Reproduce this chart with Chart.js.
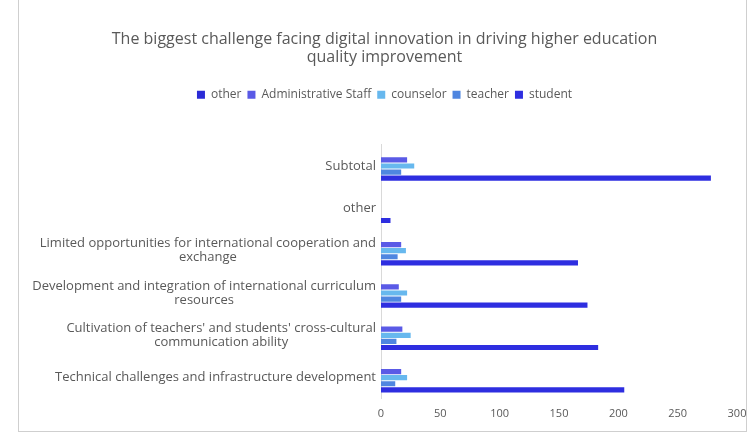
<!DOCTYPE html>
<html>
<head>
<meta charset="utf-8">
<script src="https://cdn.jsdelivr.net/npm/chart.js@4/dist/chart.umd.min.js"></script>
<style>
  html, body { margin: 0; padding: 0; background: #fff; }
  #wrap { position: absolute; left: 0; top: 0; width: 749px; height: 432px; }
  #frame { position: absolute; left: 18px; top: -1px; width: 729px; height: 433px; border: 1px solid #cfcfcf; box-sizing: border-box; pointer-events: none; }
</style>
</head>
<body>
<div id="wrap">
  <canvas id="myChart" width="749" height="432"></canvas>
  <div id="frame"></div>
</div>
<script>
// categories (top to bottom)
var categories = [
  ['Subtotal'],
  ['other'],
  ['Limited opportunities for international cooperation and', 'exchange'],
  ['Development and integration of international curriculum', 'resources'],
  ["Cultivation of teachers' and students' cross-cultural", 'communication ability'],
  ['Technical challenges and infrastructure development']
];
var seriesNames = ['other', 'Administrative Staff', 'counselor', 'teacher', 'student'];
var otherVals   = [0, 0, 0, 0, 0, 0];
var adminVals   = [22, 0, 17, 15, 18, 17];
var counselVals = [28, 0, 21, 22, 25, 22];
var teacherVals = [17, 0, 14, 17, 13, 12];
var studentVals = [278, 8, 166, 174, 183, 205];
var xTicks = [0, 50, 100, 150, 200, 250, 300];

var colors = ['#2b2bd6', '#5a5ae6', '#67b8ee', '#4f86e0', '#2e2ee0'];
var font = 'Open Sans';

// draw the y labels: block right aligned, lines centered on each other
var yLabelPlugin = {
  id: 'yLabels',
  afterDraw: function (chart) {
    var scale = chart.scales.y;
    var c = chart.ctx;
    c.save();
    c.font = '13px "' + font + '"';
    c.fillStyle = '#595959';
    c.textBaseline = 'middle';
    c.textAlign = 'center';
    var right = scale.right - 5;
    categories.forEach(function (lines, i) {
      var y = scale.getPixelForTick(i);
      var w = 0;
      lines.forEach(function (l) { w = Math.max(w, c.measureText(l).width); });
      var lh = 14;
      var y0 = y - (lines.length - 1) * lh / 2;
      lines.forEach(function (l, k) {
        c.fillText(l, right - w / 2, y0 + k * lh);
      });
    });
    c.restore();
  }
};

// extra room under the legend
var legendGap = {
  id: 'legendGap',
  beforeInit: function (chart) {
    var fit = chart.legend.fit;
    chart.legend.fit = function () {
      fit.bind(chart.legend)();
      this.height += 34;
    };
  }
};

var ctx = document.getElementById('myChart').getContext('2d');
var myChart = new Chart(ctx, {
  type: 'bar',
  data: {
    labels: categories,
    datasets: [
      { label: seriesNames[0], data: otherVals,   backgroundColor: colors[0] },
      { label: seriesNames[1], data: adminVals,   backgroundColor: colors[1] },
      { label: seriesNames[2], data: counselVals, backgroundColor: colors[2] },
      { label: seriesNames[3], data: teacherVals, backgroundColor: colors[3] },
      { label: seriesNames[4], data: studentVals, backgroundColor: colors[4] }
    ]
  },
  options: {
    indexAxis: 'y',
    responsive: false,
    animation: false,
    categoryPercentage: 0.72,
    barPercentage: 0.85,
    layout: { padding: { left: 20, right: 0, top: 30, bottom: 4 } },
    plugins: {
      title: {
        display: true,
        text: ['The biggest challenge facing digital innovation in driving higher education', 'quality improvement'],
        color: '#595959',
        font: { family: font, size: 16, weight: 'normal', lineHeight: 1.15 },
        padding: { top: 0, bottom: 16 }
      },
      legend: {
        position: 'top',
        labels: {
          boxWidth: 8, boxHeight: 8,
          padding: 6,
          color: '#595959',
          font: { family: font, size: 12 }
        }
      },
      tooltip: { enabled: false }
    },
    scales: {
      x: {
        min: 0, max: 300,
        afterBuildTicks: function (s) { s.ticks = xTicks.map(function (v) { return { value: v }; }); },
        afterFit: function (s) { s.paddingRight = 12; },
        grid: { display: false, drawTicks: false, tickLength: 0 },
        border: { display: false },
        ticks: { color: '#595959', font: { family: font, size: 11 }, padding: 8 }
      },
      y: {
        grid: { display: false },
        border: { display: true, color: '#d9d9d9' },
        ticks: { color: 'rgba(0,0,0,0)', font: { family: font, size: 10 } },
        afterFit: function (s) { s.width = 361; }
      }
    }
  },
  plugins: [yLabelPlugin, legendGap]
});
</script>
</body>
</html>
